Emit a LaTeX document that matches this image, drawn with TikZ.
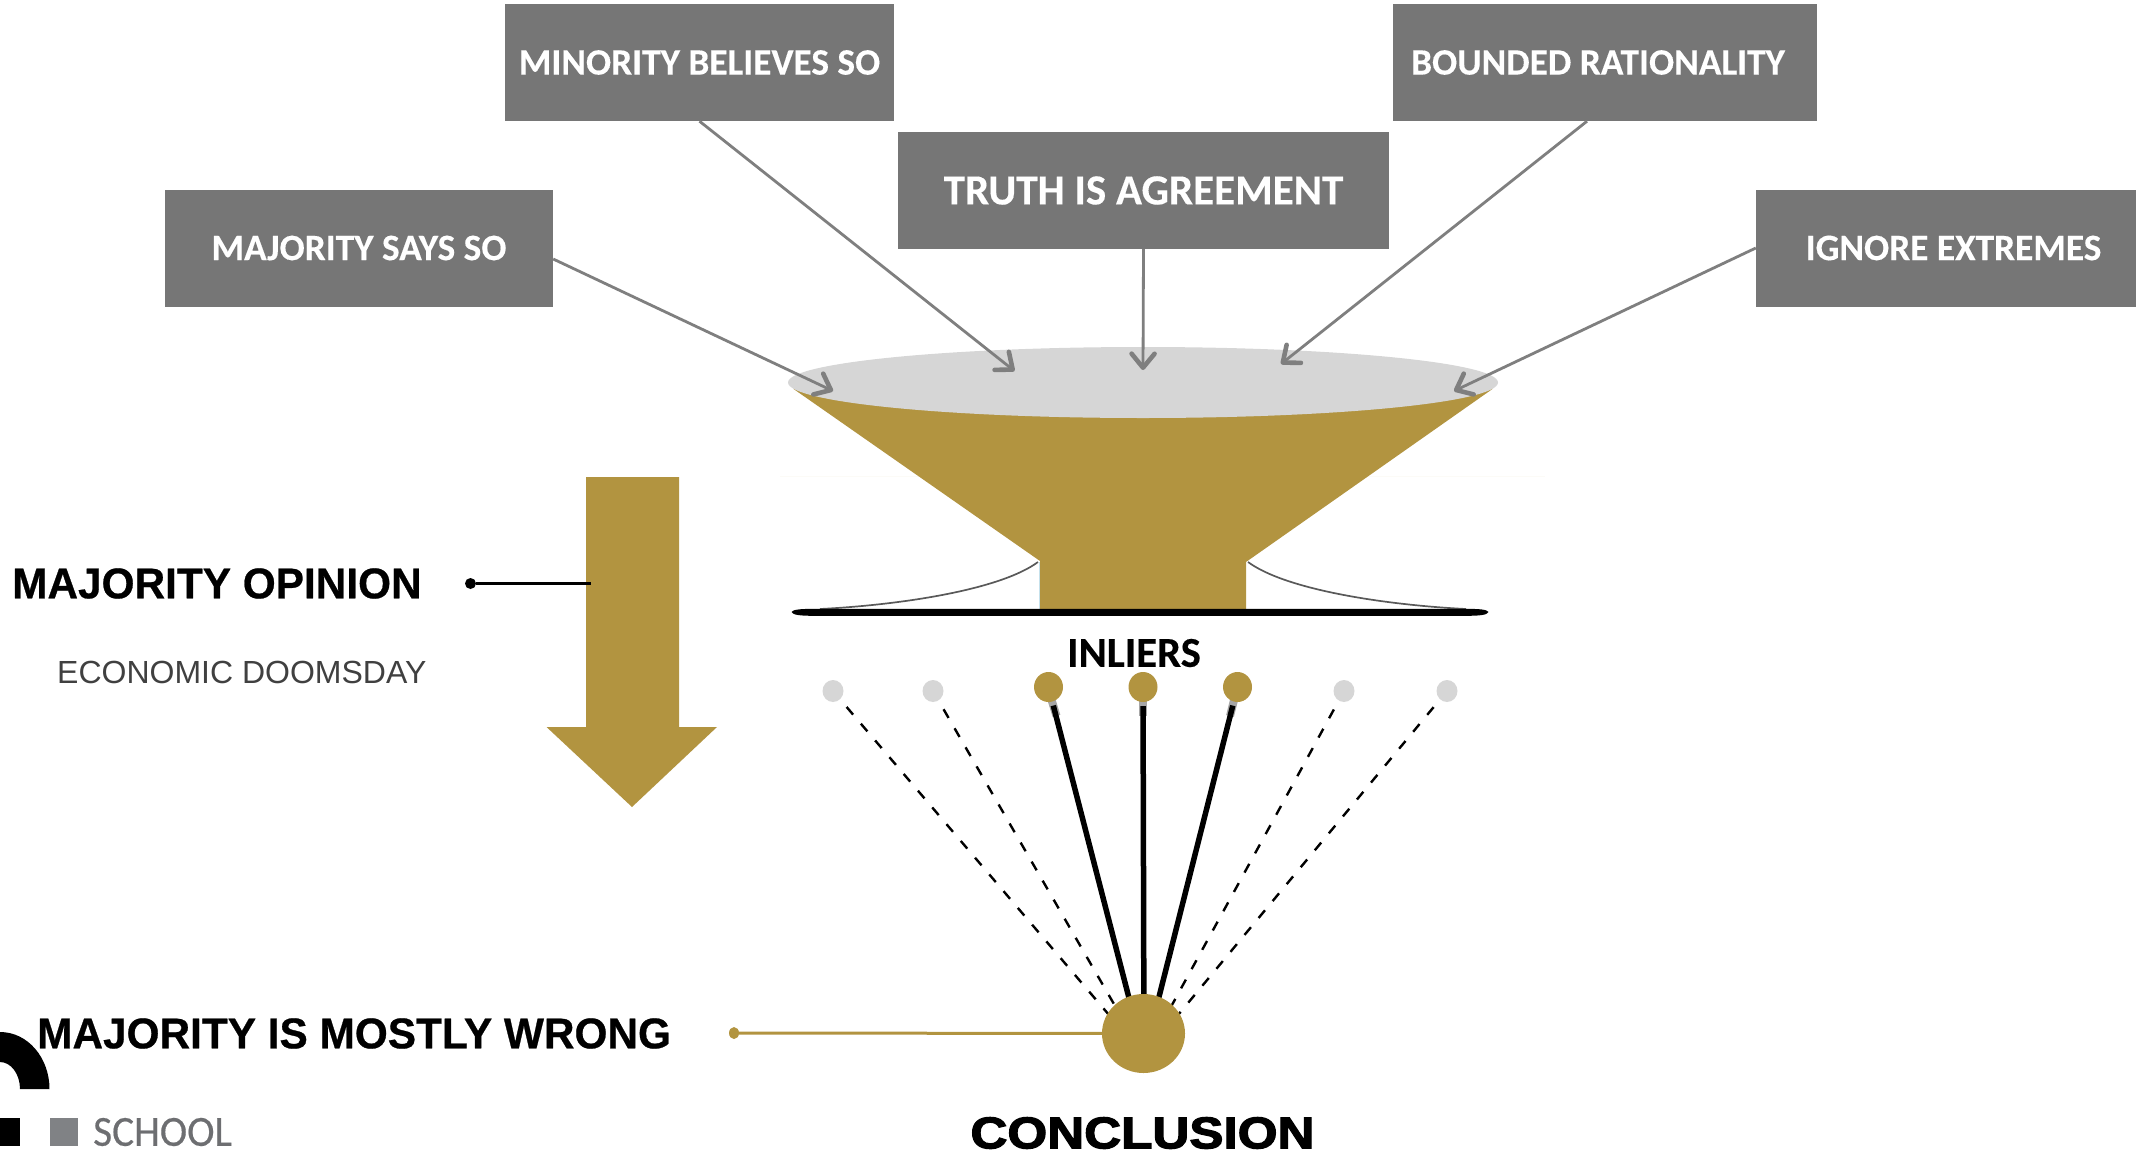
\documentclass[tikz,border=0pt]{standalone}
\usepackage{fontspec}
\setmainfont[BoldFeatures={FakeBold=0.25}]{Carlito}
\newfontfamily\helv[BoldFeatures={FakeBold=0.6}]{Liberation Sans}
\newfontfamily\helvheavy[BoldFeatures={FakeBold=2.5}]{Liberation Sans}
\newfontfamily\schoolfont[FakeBold=0.4]{Carlito}
\usetikzlibrary{arrows.meta,shapes.geometric}
\definecolor{gold}{HTML}{B29440}
\definecolor{boxgray}{HTML}{767676}
\definecolor{arrgray}{HTML}{7F7F7F}
\definecolor{capgray}{HTML}{D6D6D6}
\definecolor{sqgray}{HTML}{808285}
\definecolor{schoolgray}{HTML}{6D6E71}
\tikzset{
  graybox/.style={fill=boxgray,text=white,inner sep=0pt,font=\bfseries\fontsize{37.3}{37}\selectfont,anchor=center},
  feed/.style={draw=arrgray,line width=2.8pt,-{Straight Barb[length=14pt,width=23pt,line width=4.6pt,round]}},
  dotgray/.style={ellipse,fill=capgray,inner sep=0pt,minimum width=21pt,minimum height=22pt},
  dotgold/.style={ellipse,fill=gold,inner sep=0pt,minimum width=29pt,minimum height=30pt},
  spokedash/.style={draw=black,line width=2.4pt,dash pattern=on 10pt off 12pt,shorten <=10pt},
  spokesolid/.style={draw=black,line width=5.5pt},
  spokeshade/.style={draw=black!35,line width=8pt},
  headtext/.style={font=\helv\bfseries\fontsize{43}{43}\selectfont,text=black,inner sep=0pt},
}
\begin{document}
\begin{tikzpicture}[x=1pt,y=-1pt]
\useasboundingbox (0,0) rectangle (2136,1154);
% boxes
\node[graybox,minimum width=389pt,minimum height=117pt] (minority) at (699.5,62.5) {\raisebox{-1.5pt}{MINORITY BELIEVES SO}};
\node[graybox,minimum width=424pt,minimum height=117pt] (bounded) at (1605,62.5) {\hspace{-14pt}\raisebox{-1.5pt}{BOUNDED RATIONALITY}};
\node[graybox,minimum width=491pt,minimum height=117pt,font=\bfseries\fontsize{43}{43}\selectfont] (truth) at (1143.5,190.5) {\raisebox{-1pt}{TRUTH IS AGREEMENT}};
\node[graybox,minimum width=388pt,minimum height=117pt] (says) at (359,248) {\raisebox{-1.5pt}{MAJORITY SAYS SO}};
\node[graybox,minimum width=380pt,minimum height=117pt] (ignore) at (1946,248) {\hspace{15pt}\raisebox{-1.5pt}{IGNORE EXTREMES}};
% faint guide
\draw[draw=gold!4,line width=1pt] (780,476) -- (1545,476);
% funnel
\draw[draw=black!65,line width=1.7pt] (1038,562) .. controls (1000,590) and (900,605) .. (820,609);
\draw[draw=black!65,line width=1.7pt] (1248,562) .. controls (1286,590) and (1386,605) .. (1466,609);
\draw[draw=black!30!cyan!25!white,line width=2pt] (1039.5,562) -- (1039.5,609);
\fill[gold] (793,388.6) -- (1040,561) -- (1040,609) -- (1246,609) -- (1246,562) -- (1493,388.6) -- cycle;
\node[ellipse,fill=capgray,inner sep=0pt,minimum width=710pt,minimum height=71pt] (cap) at (1143,382.5) {};
\fill[black] (791.5,612) .. controls (793,609.5) and (800,609) .. (812,608.8) -- (1468,608.8) .. controls (1480,609) and (1487,609.5) .. (1488.5,612) .. controls (1487,615) and (1480,615.7) .. (1468,615.8) -- (812,615.8) .. controls (800,615.7) and (793,615) .. (791.5,612) -- cycle;
% feeders
\coordinate (t1) at (833,391);
\coordinate (t2) at (1014.5,371);
\coordinate (t3) at (1143,370);
\coordinate (t4) at (1281,364);
\coordinate (t5) at (1454,391);
\draw[feed] ([yshift=-11pt]says.east) -- (t1);
\draw[feed] (minority.south) -- (t2);
\draw[feed] (truth.south) -- (t3);
\draw[feed] ([xshift=-18pt]bounded.south) -- (t4);
\draw[feed] (ignore.west) -- (t5);
% inliers
\node[font=\bfseries\fontsize{42.7}{42}\selectfont,text=black,inner sep=0pt] (inl) at (1134,653) {INLIERS};
\coordinate (conv) at (1144,1056);
\coordinate (s1) at (1056.5,716);
\coordinate (s2) at (1143,716);
\coordinate (s3) at (1230,716);
\draw[spokeshade] (1048.5,690) -- (s1);
\draw[spokeshade] (1143,690) -- (s2);
\draw[spokeshade] (1236.5,690) -- (s3);
\node[dotgray] (g1) at (833,691) {};
\node[dotgray] (g2) at (933,691) {};
\node[dotgray] (g3) at (1344,691) {};
\node[dotgray] (g4) at (1447,691) {};
\node[dotgold] (k1) at (1048.5,687) {};
\node[dotgold] (k2) at (1143,687) {};
\node[dotgold] (k3) at (1237.5,687) {};
\draw[spokedash] (g1) -- (conv);
\draw[spokedash] (g2) -- (conv);
\draw[spokedash] (g3) -- (conv);
\draw[spokedash] (g4) -- (conv);
\draw[spokesolid,shorten <=4pt] (k1) -- (conv);
\draw[spokesolid,shorten <=4pt] (k2) -- (conv);
\draw[spokesolid,shorten <=4pt] (k3) -- (conv);
\node[ellipse,fill=gold,inner sep=0pt,minimum width=83pt,minimum height=79pt] (concl) at (1143.5,1033.5) {};
% left arrow
\fill[gold] (586,477) -- (679,477) -- (679,727) -- (717,727) -- (632,807) -- (546.5,727) -- (586,727) -- cycle;
% left labels
\node[headtext,anchor=west,xscale=0.985] (mop) at (12,583.5) {MAJORITY OPINION};
\node[font=\helv\fontsize{32}{32}\selectfont,text=black!75,inner sep=0pt,anchor=west] (eco) at (57,672.5) {ECONOMIC DOOMSDAY};
\node[circle,fill=black,inner sep=0pt,minimum size=11pt] (mdot) at (470.5,583.5) {};
\coordinate (mend) at (591,583.5);
\draw[black,line width=3pt] (mdot) -- (mend);
\node[headtext,anchor=west,xscale=0.985] (wrong) at (37,1033.5) {MAJORITY IS MOSTLY WRONG};
\node[ellipse,fill=gold,inner sep=0pt,minimum width=10pt,minimum height=12pt] (wdot) at (734,1033) {};
\draw[gold,line width=3pt] (wdot) -- (concl);
\node[font=\helvheavy\bfseries\fontsize{44.5}{44}\selectfont,text=black,inner sep=0pt,xscale=1.15] (cc) at (1142.5,1133) {CONCLUSION};
% logo
\fill[black] (0,1032) .. controls (28,1032) and (49.5,1058) .. (49.5,1089) -- (20,1089) .. controls (20,1074) and (11,1062) .. (0,1062) -- cycle;
\fill[black] (0,1118) rectangle (20,1146);
\fill[sqgray] (49.5,1118) rectangle (78,1146);
\node[font=\schoolfont\fontsize{43}{43}\selectfont,text=schoolgray,inner sep=0pt,anchor=west,xscale=0.96] (sch) at (93,1132) {SCHOOL};
\end{tikzpicture}
\end{document}
